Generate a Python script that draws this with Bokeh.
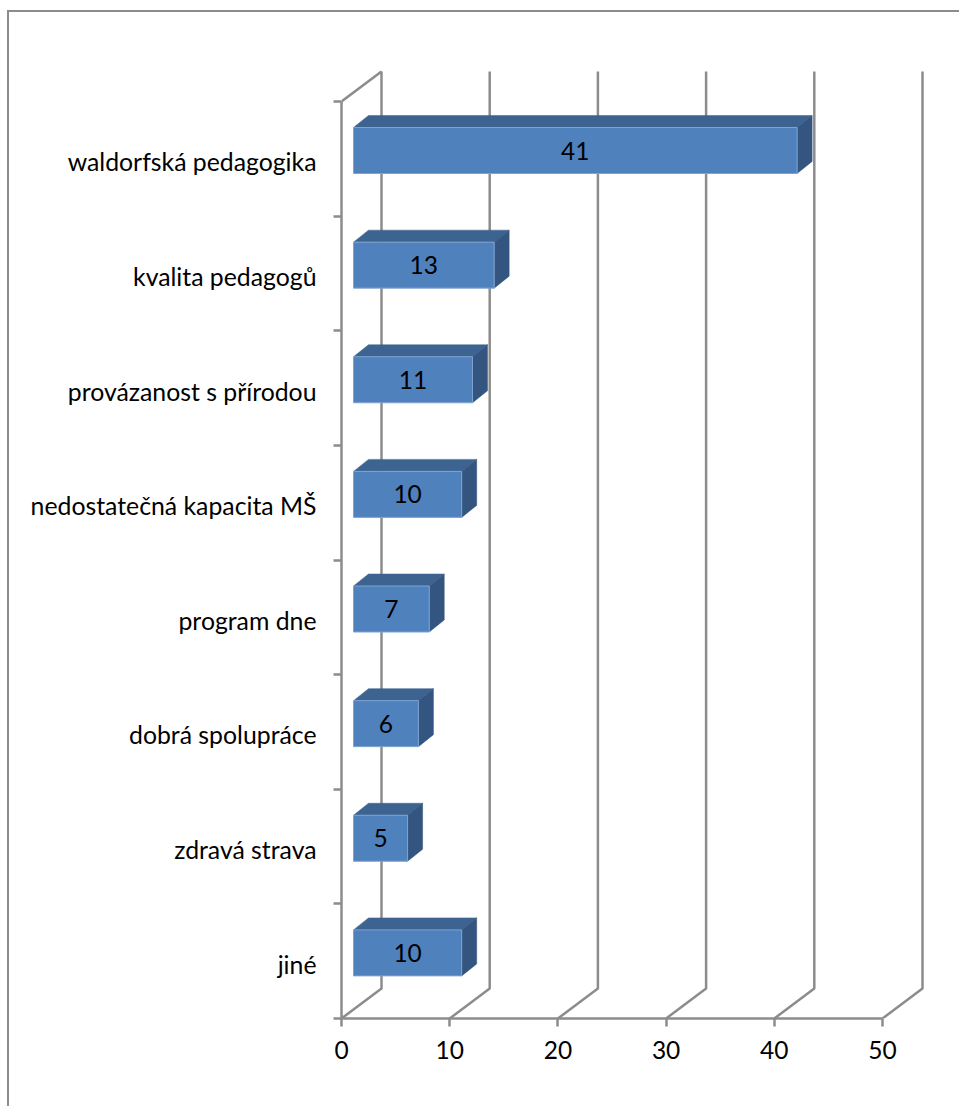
from bokeh.plotting import figure
from bokeh.models import FixedTicker, InlineStyleSheet, Range1d
from bokeh.embed import file_html
from bokeh.resources import INLINE
from bokeh.core.properties import value

categories = ["waldorfská pedagogika", "kvalita pedagogů", "provázanost s přírodou",
              "nedostatečná kapacita MŠ", "program dne", "dobrá spolupráce",
              "zdravá strava", "jiné"]
counts = [41, 13, 11, 10, 7, 6, 5, 10]
x_ticks = [0, 10, 20, 30, 40, 50]

FONT = "Lato"
GRID = "#8c8c8c"

# scales of the plotting frame, pixels per data unit
PX_X = 10.82
PX_Y = 114.625
FRAME_W, FRAME_H = 584, 950


def dx(px):
    return px / PX_X


def dy(px):
    return px / PX_Y


# chart-area border, running off the right and bottom of the page
border = InlineStyleSheet(css="""
:host { position: relative; overflow: hidden; }
:host::after {
  content: ""; position: absolute; left: 7px; top: 10px;
  width: 2000px; height: 2000px; border: 2px solid #8c8c8c; pointer-events: none;
}
""")

p = figure(width=959, height=1106, output_backend="svg", toolbar_location=None,
           x_range=Range1d(0, FRAME_W / PX_X), y_range=Range1d(0, FRAME_H / PX_Y),
           min_border_left=341, min_border_right=34, min_border_top=68, min_border_bottom=88,
           background_fill_color="white", border_fill_color="white", outline_line_color=None,
           stylesheets=[border])
p.grid.visible = False

# 3D walls: floor diagonals and back-wall verticals
ymax = len(categories)
wall_x = [[v, v + dx(40), v + dx(40)] for v in x_ticks]
wall_y = [[0, dy(30), ymax + dy(30)] for v in x_ticks]
p.multi_line(wall_x, wall_y, line_color=GRID, line_width=2.5)
p.line([0, dx(40)], [ymax, ymax + dy(30)], line_color=GRID, line_width=2.5)

# bars: front face, top face and right side of each box
n = len(categories)
x0 = dx(12)
ox, oy = dx(15), dy(12)
half = dy(23)
centres = [n - 1 - i + 0.5 + dy(8.3) for i in range(n)]

front_x, front_y, top_x, top_y, side_x, side_y = [], [], [], [], [], []
for c, v in zip(centres, counts):
    x1 = x0 + v
    b, t = c - half, c + half
    front_x.append([x0, x1, x1, x0])
    front_y.append([b, b, t, t])
    top_x.append([x0, x1, x1 + ox, x0 + ox])
    top_y.append([t, t, t + oy, t + oy])
    side_x.append([x1, x1 + ox, x1 + ox, x1])
    side_y.append([b, b + oy, t + oy, t])

p.patches(top_x, top_y, fill_color="#3d6391", line_color="#3d6391", line_width=0.5)
p.patches(side_x, side_y, fill_color="#34557f", line_color="#34557f", line_width=0.5)
p.patches(front_x, front_y, fill_color="#4f81bd", line_color="#7ea3d2", line_width=1)

p.text([x0 + v / 2 for v in counts], centres, text=[str(v) for v in counts],
       text_font=value(FONT), text_font_size="24.5px", text_color="black",
       text_align="center", text_baseline="middle")

# value axis
xa = p.xaxis[0]
xa.ticker = FixedTicker(ticks=x_ticks)
xa.bounds = (0, 50)
xa.axis_line_color = GRID
xa.axis_line_width = 2.5
xa.major_tick_line_color = GRID
xa.major_tick_line_width = 2.5
xa.major_tick_in = 0
xa.major_tick_out = 8
xa.minor_tick_line_color = None
xa.major_label_standoff = 14
xa.major_label_text_font = FONT
xa.major_label_text_font_size = "24.5px"
xa.major_label_text_color = "black"

# category axis: ticks at the slot edges (minor), labels at the slot centres (major)
label_pos = [n - 1 - i + 0.5 - dy(3) for i in range(n)]
ya = p.yaxis[0]
ya.ticker = FixedTicker(ticks=label_pos, minor_ticks=list(range(n + 1)))
ya.major_label_overrides = {pos: name for pos, name in zip(label_pos, categories)}
ya.bounds = (0, n)
ya.axis_line_color = GRID
ya.axis_line_width = 2.5
ya.major_tick_line_color = None
ya.major_tick_in = 0
ya.major_tick_out = 0
ya.minor_tick_line_color = GRID
ya.minor_tick_line_width = 2.5
ya.minor_tick_in = 0
ya.minor_tick_out = 8
ya.major_label_standoff = 17
ya.major_label_text_font = FONT
ya.major_label_text_font_size = "24.8px"
ya.major_label_text_color = "black"

open("out.html", "w").write(file_html(p, INLINE))
